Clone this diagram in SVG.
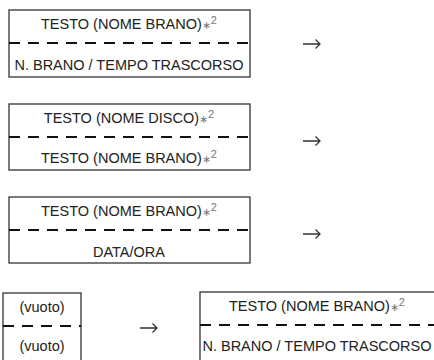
<svg xmlns="http://www.w3.org/2000/svg" width="434" height="360" viewBox="0 0 434 360">
<style>
.box{fill:#fff;stroke:#333;stroke-width:1.3}
.dash{stroke:#111;stroke-width:2;stroke-dasharray:11 8}
.t{font-family:"Liberation Sans",Arial,sans-serif;font-size:14.5px;fill:#222;text-anchor:middle}
.sup{fill:#777;font-size:11px}
.arr{stroke:#333;stroke-width:1.3;fill:none}
</style>
<rect width="434" height="360" fill="#fff"/>
<g id="node1">
<rect class="box" x="9" y="10" width="241" height="67"/>
<line class="dash" x1="9" y1="43" x2="250" y2="43"/>
<text class="t" x="129" y="29">TESTO (NOME BRANO)<tspan class="sup">∗</tspan><tspan class="sup" font-size="8px" dy="-5">2</tspan></text>
<text class="t" x="129" y="70">N. BRANO / TEMPO TRASCORSO</text>
</g>
<g id="node2">
<rect class="box" x="9" y="104" width="241" height="66"/>
<line class="dash" x1="9" y1="137" x2="250" y2="137"/>
<text class="t" x="129" y="123">TESTO (NOME DISCO)<tspan class="sup">∗</tspan><tspan class="sup" font-size="8px" dy="-5">2</tspan></text>
<text class="t" x="129" y="163">TESTO (NOME BRANO)<tspan class="sup">∗</tspan><tspan class="sup" font-size="8px" dy="-5">2</tspan></text>
</g>
<g id="node3">
<rect class="box" x="9" y="197" width="241" height="66"/>
<line class="dash" x1="9" y1="230" x2="250" y2="230"/>
<text class="t" x="129" y="216">TESTO (NOME BRANO)<tspan class="sup">∗</tspan><tspan class="sup" font-size="8px" dy="-5">2</tspan></text>
<text class="t" x="129" y="257">DATA/ORA</text>
</g>
<g id="node4">
<rect class="box" x="3" y="293" width="78" height="80"/>
<line class="dash" x1="3" y1="326" x2="81" y2="326"/>
<text class="t" x="42" y="312">(vuoto)</text>
<text class="t" x="42" y="351">(vuoto)</text>
</g>
<g id="node5">
<rect class="box" x="200" y="292" width="250" height="80"/>
<line class="dash" x1="200" y1="325" x2="434" y2="325"/>
<text class="t" x="317" y="311">TESTO (NOME BRANO)<tspan class="sup">∗</tspan><tspan class="sup" font-size="8px" dy="-5">2</tspan></text>
<text class="t" x="317" y="351">N. BRANO / TEMPO TRASCORSO</text>
</g>
<g id="connectors">
<path class="arr" d="M303 44H320M315.5 39.5L320 44L315.5 48.5"/>
<path class="arr" d="M303 141H320M315.5 136.5L320 141L315.5 145.5"/>
<path class="arr" d="M303 234H320M315.5 229.5L320 234L315.5 238.5"/>
<path class="arr" d="M140 328H157M152.5 323.5L157 328L152.5 332.5"/>
</g>
</svg>
